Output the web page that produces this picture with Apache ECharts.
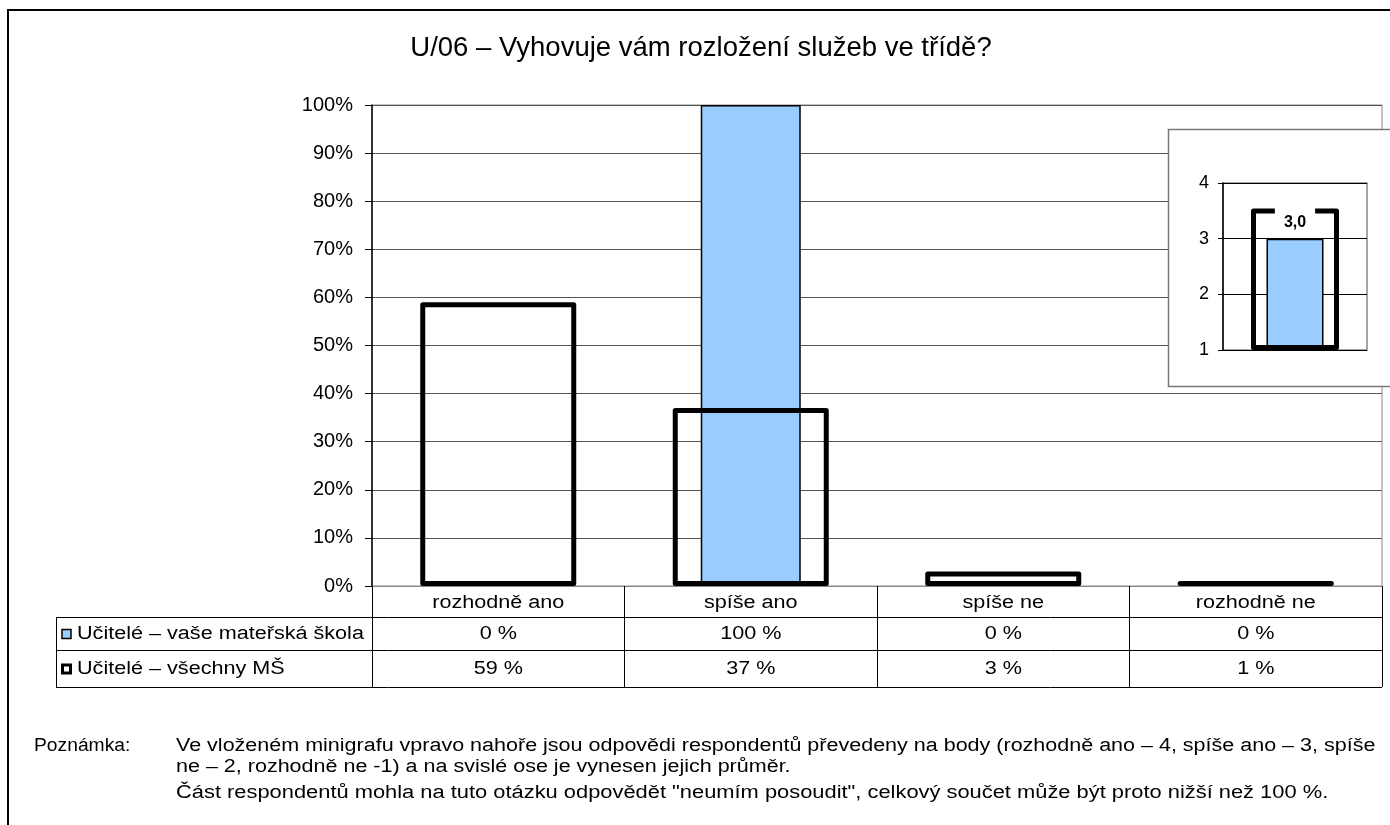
<!DOCTYPE html>
<html>
<head>
<meta charset="utf-8">
<title>U/06</title>
<script src="https://cdn.jsdelivr.net/npm/echarts@6/dist/echarts.min.js"></script>
<style>
  html, body { margin: 0; padding: 0; background: #fff; }
  #main { width: 1390px; height: 825px; }
</style>
</head>
<body>
<div id="main"></div>
<script>
// data
var titleText = 'U/06 – Vyhovuje vám rozložení služeb ve třídě?';
var categories = ['rozhodně ano', 'spíše ano', 'spíše ne', 'rozhodně ne'];
var seriesNames = ['Učitelé – vaše mateřská škola', 'Učitelé – všechny MŠ'];
var mine = [0, 100, 0, 0];      // % vaše MŠ
var all = [59, 37, 3, 1];       // % všechny MŠ
var miniMine = [3.0];           // průměr bodů vaše MŠ
var miniAll = [3.54];           // průměr bodů všechny MŠ
var miniMin = 1, miniMax = 4;
var noteLabel = 'Poznámka:';
var noteLines = [
  'Ve vloženém minigrafu vpravo nahoře jsou odpovědi respondentů převedeny na body (rozhodně ano – 4, spíše ano – 3, spíše',
  'ne – 2, rozhodně ne -1) a na svislé ose je vynesen jejich průměr.',
  'Část respondentů mohla na tuto otázku odpovědět "neumím posoudit", celkový součet může být proto nižší než 100 %.'
];

var FONT = '"Liberation Sans", Arial, sans-serif';
var TXT = '18px ' + FONT;
var SX = 1.2;   // the original text is a bit wider than Arial

// layout of the main plot / table
var gl = 372, gt = 105, gw = 1010, gh = 481;
var colW = gw / categories.length;
var rowY = [617, 650, 687];   // table row lines

var chart = echarts.init(document.getElementById('main'));

function txt(x, y, s, align, sx) {
  return { type: 'text', x: x, y: y, z: 5, scaleX: sx || SX,
    style: { text: s, font: TXT, fill: '#000', align: align || 'left', verticalAlign: 'middle' } };
}

var g = [];
// outer frame
g.push({ type: 'rect', shape: { x: 8, y: 10, width: 1500, height: 900 },
  style: { fill: 'none', stroke: '#000', lineWidth: 2 }, z: 1 });
// inset box
g.push({ type: 'rect', shape: { x: 1168.5, y: 129.5, width: 300, height: 257 },
  style: { fill: '#fff', stroke: '#777', lineWidth: 1.5 }, z: 10 });
// table lines
rowY.forEach(function (y) {
  g.push({ type: 'line', shape: { x1: 56, y1: y + 0.5, x2: gl + gw, y2: y + 0.5 },
    style: { stroke: '#000', lineWidth: 1 }, z: 5 });
});
g.push({ type: 'line', shape: { x1: 56.5, y1: rowY[0], x2: 56.5, y2: rowY[2] },
  style: { stroke: '#000', lineWidth: 1 }, z: 5 });
// header row: categories
categories.forEach(function (c, i) {
  g.push(txt(gl + colW * (i + 0.5), 603, c, 'center'));
});
// table rows
var rows = [mine, all];
rows.forEach(function (vals, r) {
  var cy = (rowY[r] + rowY[r + 1]) / 2 + 1;
  if (r === 0) {
    g.push({ type: 'rect', shape: { x: 62, y: cy - 5, width: 9, height: 9 },
      style: { fill: '#99CCFF', stroke: '#000', lineWidth: 1.5 }, z: 5 });
  } else {
    g.push({ type: 'rect', shape: { x: 62.5, y: cy - 4.5, width: 8, height: 8 },
      style: { fill: '#fff', stroke: '#000', lineWidth: 3 }, z: 5 });
  }
  g.push(txt(77, cy, seriesNames[r]));
  vals.forEach(function (v, i) {
    g.push(txt(gl + colW * (i + 0.5), cy, v + ' %', 'center'));
  });
});
// note
g.push(txt(34, 746, noteLabel, 'left', 1.07));
g.push(txt(176, 746, noteLines[0], 'left', 1.195));
g.push(txt(176, 767, noteLines[1], 'left', 1.195));
g.push(txt(176, 793, noteLines[2], 'left', 1.215));

var option = {
  backgroundColor: '#fff',
  animation: false,
  textStyle: { fontFamily: FONT },
  title: {
    text: titleText, left: 696, top: 29, textAlign: 'center',
    textStyle: { fontSize: 27.5, fontWeight: 'normal', color: '#000', fontFamily: FONT }
  },
  grid: [
    { left: gl, top: gt, width: gw, height: gh, show: true, borderColor: '#888', borderWidth: 1 },
    { left: 1223, top: 183, width: 144, height: 167, show: true, borderColor: '#888', borderWidth: 1.5, z: 20 }
  ],
  xAxis: [
    { type: 'category', gridIndex: 0, data: categories,
      axisLine: { lineStyle: { color: '#888', width: 1 } },
      axisTick: { show: true, length: 101, lineStyle: { color: '#000', width: 1 } },
      axisLabel: { show: false } },
    { type: 'category', gridIndex: 0, data: categories, show: false },
    { type: 'category', gridIndex: 1, data: [''], show: false },
    { type: 'category', gridIndex: 1, data: [''], show: false }
  ],
  yAxis: [
    { type: 'value', gridIndex: 0, min: 0, max: 100, interval: 10,
      axisLine: { show: true, lineStyle: { color: '#000', width: 1.5 } },
      axisTick: { show: true, length: 7, lineStyle: { color: '#000' } },
      axisLabel: { margin: 19, fontSize: 20, color: '#000', formatter: '{value}%', fontFamily: FONT },
      splitLine: { lineStyle: { color: '#555', width: 1 } } },
    { type: 'value', gridIndex: 1, min: miniMin, max: miniMax, interval: 1, z: 21,
      axisLine: { show: true, lineStyle: { color: '#000', width: 1.5 } },
      axisTick: { show: true, length: 5, lineStyle: { color: '#000' } },
      axisLabel: { margin: 14, fontSize: 18, color: '#000', fontFamily: FONT },
      splitLine: { lineStyle: { color: '#000', width: 1 } } }
  ],
  series: [
    { type: 'bar', name: seriesNames[0], xAxisIndex: 1, yAxisIndex: 0,
      data: mine.map(function (v) { return v === 0 ? '-' : v; }),
      barWidth: 100, z: 2,
      itemStyle: { color: '#99CCFF', borderColor: '#000', borderWidth: 1.5 } },
    { type: 'bar', name: seriesNames[1], xAxisIndex: 0, yAxisIndex: 0,
      data: all, barWidth: 156, z: 3,
      itemStyle: { color: 'rgba(255,255,255,0)', borderColor: '#000', borderWidth: 5, borderJoin: 'round' } },
    // mini chart: bars rise from the axis minimum via a transparent base
    { type: 'bar', xAxisIndex: 2, yAxisIndex: 1, stack: 'mine', data: [miniMin], barWidth: 57, z: 22,
      silent: true, itemStyle: { color: 'rgba(0,0,0,0)' } },
    { type: 'bar', xAxisIndex: 2, yAxisIndex: 1, stack: 'mine', barWidth: 57, z: 22,
      data: miniMine.map(function (v) { return v - miniMin; }),
      itemStyle: { color: '#99CCFF', borderColor: '#000', borderWidth: 1.5 } },
    { type: 'bar', xAxisIndex: 3, yAxisIndex: 1, stack: 'all', data: [miniMin], barWidth: 88, z: 23,
      silent: true, itemStyle: { color: 'rgba(0,0,0,0)' } },
    { type: 'bar', xAxisIndex: 3, yAxisIndex: 1, stack: 'all', barWidth: 88, z: 23,
      data: miniAll.map(function (v) { return v - miniMin; }),
      itemStyle: { color: 'rgba(0,0,0,0)', borderColor: '#000', borderWidth: 5, borderJoin: 'round' },
      label: { show: true, position: 'insideTop', offset: [0, -10],
        formatter: function () { return miniMine[0].toFixed(1).replace('.', ','); },
        backgroundColor: '#fff', padding: [11, 9, 4, 9],
        fontSize: 16, fontWeight: 'bold', color: '#000', fontFamily: FONT } }
  ],
  graphic: { elements: g }
};

chart.setOption(option);
</script>
</body>
</html>
